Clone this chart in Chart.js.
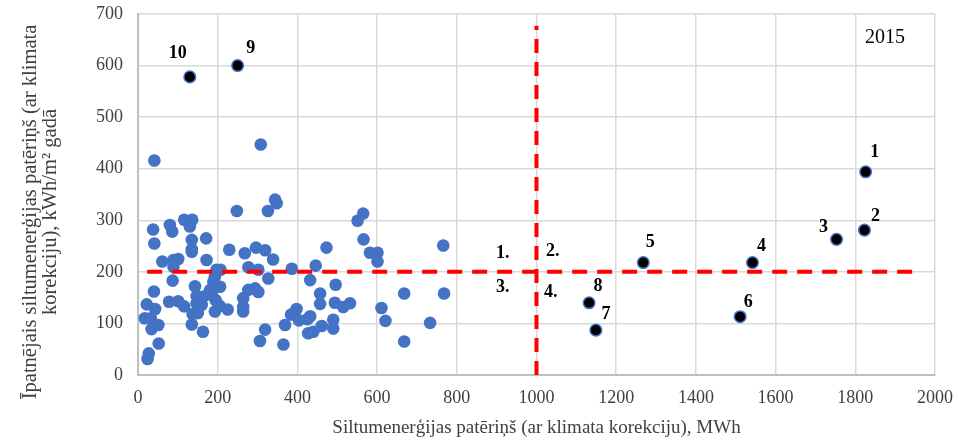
<!DOCTYPE html>
<html>
<head>
<meta charset="utf-8">
<script src="https://cdn.jsdelivr.net/npm/chart.js@4.4.1/dist/chart.umd.min.js"></script>
<style>
  html, body { margin: 0; padding: 0; background: #fff; }
  #wrap { width: 959px; height: 440px; }
</style>
</head>
<body>
<div id="wrap"><canvas id="chart"></canvas></div>
<script>
// Buildings (blue dots): heat consumption MWh vs specific consumption kWh/m2
const blueX = [41, 308, 248, 326, 344, 348,
    38, 80, 86, 116, 136, 130, 41, 135, 135, 171, 229, 268, 296, 319, 339,
    61, 89, 101, 89, 135, 172, 197, 207, 193, 189, 277, 302, 327, 386,
    87, 40, 22, 43, 17, 32, 34, 51, 52, 27, 24,
    78, 101, 116, 143, 147, 164, 147, 160, 181, 193, 206, 185, 195, 205, 225, 137, 150, 135, 163, 193,
    264, 277, 294, 302, 264, 264, 319, 306, 365,
    369, 384, 398, 404, 425, 432, 427, 440, 461, 446, 432,
    551, 565, 566, 473, 582, 601, 601, 496, 457, 457, 494, 515, 532, 490, 490,
    611, 621, 668, 668, 733, 766, 768];
const blueY = [416, 447, 318, 318, 340, 333,
    282, 291, 278, 301, 301, 288, 255, 262, 244, 265, 243, 236, 247, 242, 224,
    220, 223, 225, 210, 239, 223, 204, 204, 191, 181, 209, 204, 187, 206,
    183, 162, 137, 128, 110, 110, 89, 97, 61, 42, 31,
    142, 143, 133, 172, 153, 152, 139, 136, 165, 171, 171, 155, 145, 134, 127, 118, 120, 98, 84, 123,
    149, 165, 168, 161, 123, 132, 88, 66, 59,
    97, 117, 128, 106, 108, 114, 81, 84, 95, 212, 184,
    299, 313, 263, 247, 237, 237, 220, 175, 158, 138, 140, 132, 139, 107, 90,
    130, 105, 158, 65, 101, 251, 158];

// Numbered buildings (black dots)
const markedX = [1826, 1823, 1753, 1542, 1268, 1511, 1149, 1132, 250, 130];
const markedY = [394, 281, 263, 218, 218, 113, 87, 140, 600, 578];
const markedLabels = ['1', '2', '3', '4', '5', '6', '7', '8', '9', '10'];

// Threshold lines and quadrant names
const limitX = 1000;
const limitY = 200;
const hLineX = [23, 1960];
const vLineY = [0, 677];
const quadLabels = ['1.', '2.', '3.', '4.'];
const quadX = [915, 1041, 915, 1036];
const quadY = [235, 240, 170, 161];

const xTitle = 'Siltumenerģijas patēriņš (ar klimata korekciju), MWh';
const yTitle = ['Īpatnējais siltumenerģijas patēriņš (ar klimata', 'korekciju), kWh/m² gadā'];
const yearText = '2015';

const serif = "'Liberation Serif', 'Times New Roman', serif";

const toPoints = (xs, ys) => xs.map((x, i) => ({ x: x, y: ys[i] }));

// label offsets for numbered points, in pixels
const labelOffsets = [[9, -19], [11, -14], [-13, -12], [9, -16], [7, -20],
    [8, -14], [10, -16], [9, -16], [13, -17], [-12, -24]];

const textPlugin = {
    id: 'texts',
    afterDatasetsDraw(chart) {
        const ctx = chart.ctx;
        const xs = chart.scales.x, ys = chart.scales.y;
        ctx.save();
        ctx.textAlign = 'center';
        ctx.textBaseline = 'middle';
        ctx.fillStyle = '#000';
        ctx.font = 'bold 18px ' + serif;
        // numbers next to black points
        chart.getDatasetMeta(2).data.forEach((pt, i) => {
            const off = labelOffsets[i];
            ctx.fillText(markedLabels[i], pt.x + off[0], pt.y + off[1]);
        });
        // quadrant names
        quadLabels.forEach((t, i) => {
            ctx.fillText(t, xs.getPixelForValue(quadX[i]), ys.getPixelForValue(quadY[i]));
        });
        // year
        ctx.font = '20px ' + serif;
        ctx.fillText(yearText, chart.chartArea.right - 50, chart.chartArea.top + 24);
        // y axis title
        ctx.font = '20.5px ' + serif;
        ctx.fillStyle = '#404040';
        ctx.translate(31, 212);
        ctx.rotate(-Math.PI / 2);
        ctx.fillText(yTitle[0], 0, 0);
        ctx.fillText(yTitle[1], 0, 20);
        ctx.restore();
    }
};

new Chart(document.getElementById('chart'), {
    type: 'scatter',
    data: {
        datasets: [
            {
                data: toPoints(hLineX, [limitY, limitY]),
                showLine: true,
                borderColor: '#ff0000',
                borderWidth: 4,
                borderDash: [15, 10],
                pointRadius: 0,
                order: 1
            },
            {
                data: toPoints([limitX, limitX], vLineY),
                showLine: true,
                borderColor: '#ff0000',
                borderWidth: 4,
                borderDash: [14, 9],
                pointRadius: 0,
                order: 1
            },
            {
                data: toPoints(markedX, markedY),
                backgroundColor: '#000000',
                borderColor: '#4472c4',
                borderWidth: 1.5,
                pointRadius: 5.8,
                order: 2
            },
            {
                data: toPoints(blueX, blueY),
                backgroundColor: '#4472c4',
                borderColor: '#4472c4',
                borderWidth: 0,
                pointRadius: 6.3,
                order: 3
            }
        ]
    },
    options: {
        responsive: true,
        maintainAspectRatio: false,
        animation: false,
        layout: { padding: { top: 14, right: 24, left: 0, bottom: 0 } },
        plugins: { legend: { display: false }, tooltip: { enabled: false } },
        scales: {
            x: {
                type: 'linear',
                min: 0,
                max: 2000,
                ticks: { stepSize: 200, color: '#404040', font: { family: serif, size: 18 }, padding: 12, maxRotation: 0,
                    callback: v => String(v) },
                grid: { color: '#d9d9d9', lineWidth: 1.5, drawTicks: false },
                border: { color: '#bfbfbf', width: 2 },
                title: { display: true, text: xTitle, color: '#404040', font: { family: serif, size: 19 }, padding: { top: 0, bottom: 1 } },
                afterFit(s) { s.height = 65; s.paddingLeft = 0; s.paddingRight = 0; }
            },
            y: {
                type: 'linear',
                min: 0,
                max: 700,
                ticks: { stepSize: 100, color: '#404040', font: { family: serif, size: 18 }, padding: 15,
                    callback: v => String(v) },
                grid: { color: '#d9d9d9', lineWidth: 1.5, drawTicks: false },
                border: { color: '#bfbfbf', width: 2 },
                afterFit(s) { s.width = 138; s.paddingTop = 0; s.paddingBottom = 0; }
            }
        }
    },
    plugins: [textPlugin]
});
</script>
</body>
</html>
